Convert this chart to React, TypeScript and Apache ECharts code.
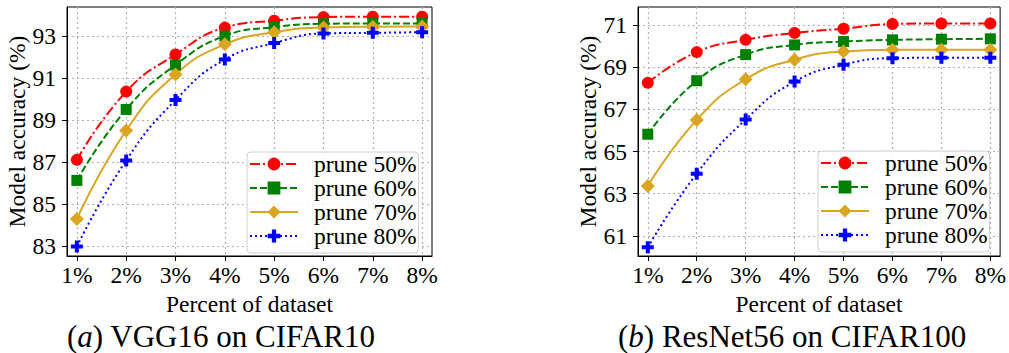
import React, { useEffect, useRef } from "react";
import * as echarts from "echarts";

const percents = [1, 2, 3, 4, 5, 6, 7, 8];
const seriesNames = ["prune 50%", "prune 60%", "prune 70%", "prune 80%"];

const vggP50 = [87.1, 90.35, 92.12, 93.4, 93.73, 93.9, 93.92, 93.92];
const vggP60 = [86.12, 89.5, 91.62, 93.0, 93.42, 93.58, 93.6, 93.6];
const vggP70 = [84.28, 88.5, 91.17, 92.6, 93.18, 93.4, 93.44, 93.45];
const vggP80 = [82.97, 87.07, 89.95, 91.88, 92.66, 93.12, 93.15, 93.18];

const resP50 = [68.26, 69.72, 70.3, 70.63, 70.83, 71.05, 71.08, 71.08];
const resP60 = [65.82, 68.36, 69.6, 70.06, 70.22, 70.3, 70.33, 70.35];
const resP70 = [63.36, 66.5, 68.43, 69.36, 69.75, 69.83, 69.83, 69.83];
const resP80 = [60.45, 63.95, 66.52, 68.32, 69.12, 69.43, 69.45, 69.45];

const vggTicks = [83, 85, 87, 89, 91, 93];
const resTicks = [61, 63, 65, 67, 69, 71];

const captionA = "VGG16 on CIFAR10";
const captionB = "ResNet56 on CIFAR100";

const FONT = "Liberation Serif";
const PLUS = "path://M4,0H8V4H12V8H8V12H4V8H0V4H4Z";

const styles = [
  { color: "#ff0000", dash: [10, 3, 2, 3], symbol: "circle", size: 12 },
  { color: "#008000", dash: [7, 3], symbol: "rect", size: 11 },
  { color: "#daa520", dash: "solid", symbol: "diamond", size: 14 },
  { color: "#0000ff", dash: [2, 3], symbol: PLUS, size: 12 },
];

export default function App() {
  const ref = useRef<HTMLDivElement>(null);
  useEffect(() => {
    document.body.style.margin = "0";
    const chart = echarts.init(ref.current!, null, { renderer: "svg" });
    const grids = [
      { left: 67, top: 7, width: 365, height: 249 },
      { left: 638, top: 7, width: 364, height: 249 },
    ];
    const yRanges = [
      { min: 82.52, max: 94.38, ticks: vggTicks },
      { min: 60.04, max: 71.86, ticks: resTicks },
    ];
    const txt = { fontSize: 23.5, fontFamily: FONT, color: "#000" };
    const mkX = (i: number) => ({
      type: "value",
      gridIndex: i,
      min: 0.8,
      max: 8.2,
      splitNumber: 7,
      axisLine: { show: true, lineStyle: { color: "#000", width: 1 } },
      axisTick: { show: true, length: 5, customValues: percents, lineStyle: { color: "#000" } },
      axisLabel: {
        customValues: percents,
        formatter: (v: number) => `${v}%`,
        ...txt,
        margin: 7,
      },
      splitLine: { show: true, lineStyle: { color: "#b0b0b0", type: [2, 3], width: 1.2 } },
      name: "Percent of dataset",
      nameLocation: "middle",
      nameGap: 33,
      nameTextStyle: { ...txt },
    });
    const mkY = (i: number) => ({
      type: "value",
      gridIndex: i,
      min: yRanges[i].min,
      max: yRanges[i].max,
      axisLine: { show: true, lineStyle: { color: "#000", width: 1 } },
      axisTick: { show: true, length: 5, customValues: yRanges[i].ticks, lineStyle: { color: "#000" } },
      axisLabel: {
        customValues: yRanges[i].ticks,
        ...txt,
        margin: 11,
      },
      splitLine: { show: true, lineStyle: { color: "#b0b0b0", type: [2, 3], width: 1.2 } },
      name: "Model accuracy (%)",
      nameLocation: "middle",
      nameGap: 38,
      nameTextStyle: { ...txt },
    });
    const data = [
      [vggP50, vggP60, vggP70, vggP80],
      [resP50, resP60, resP70, resP80],
    ];
    const series: any[] = [];
    data.forEach((group, gi) => {
      group.forEach((vals, si) => {
        const st = styles[si];
        series.push({
          type: "line",
          name: seriesNames[si],
          xAxisIndex: gi,
          yAxisIndex: gi,
          data: vals.map((v, k) => [percents[k], v]),
          smooth: 0.5,
          symbol: st.symbol,
          symbolSize: st.size,
          showAllSymbol: true,
          lineStyle: { color: st.color, width: 2, type: st.dash },
          itemStyle: { color: st.color, borderWidth: 0 },
          emphasis: { disabled: true },
        });
      });
    });
    const mkLegend = (left: number, top: number) => ({
      data: seriesNames,
      left,
      top,
      orient: "vertical",
      itemWidth: 48,
      itemHeight: 16,
      itemGap: 0,
      padding: [0, 2, 5, 2],
      selectedMode: false,
      backgroundColor: "rgba(255,255,255,0.8)",
      borderColor: "#d0d0d0",
      borderWidth: 1,
      borderRadius: 4,
      textStyle: {
        ...txt,
        lineHeight: 22.5,
        padding: [0, 0, 0, 11],
      },
    });
    const mkCaption = (x: number, letter: string, text: string) => ({
      type: "text",
      x,
      y: 336,
      style: {
        text: `{n|(}{i|${letter}}{n|) ${text}}`,
        verticalAlign: "middle",
        fill: "#000",
        rich: {
          n: { fontFamily: FONT, fontSize: 31, fill: "#000" },
          i: { fontFamily: FONT, fontSize: 31, fontStyle: "italic", fill: "#000" },
        },
      },
    });
    chart.setOption({
      animation: false,
      textStyle: { fontFamily: FONT },
      grid: grids.map((g) => ({ ...g, show: true, borderColor: "#000", borderWidth: 1, backgroundColor: "transparent" })),
      xAxis: [mkX(0), mkX(1)],
      yAxis: [mkY(0), mkY(1)],
      legend: [mkLegend(247, 152), mkLegend(818, 151)],
      series,
      graphic: [mkCaption(67, "a", captionA), mkCaption(618, "b", captionB)],
    });
    return () => chart.dispose();
  }, []);
  return <div ref={ref} style={{ width: 1009, height: 353 }} />;
}
